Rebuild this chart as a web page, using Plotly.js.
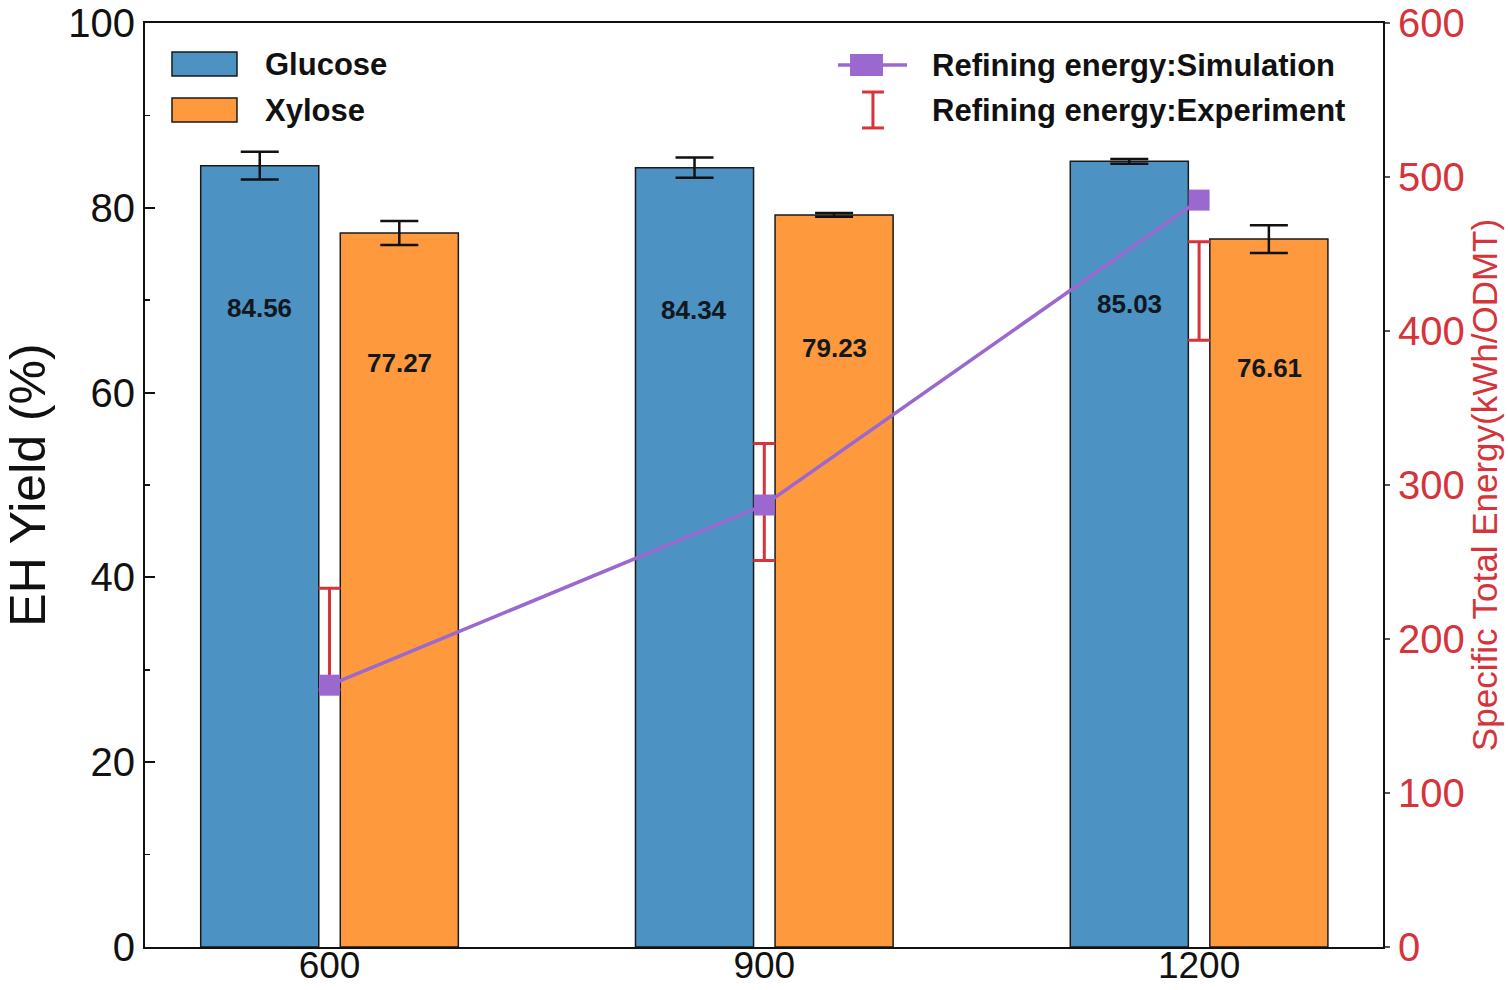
<!DOCTYPE html>
<html>
<head>
<meta charset="utf-8">
<script src="https://cdn.plot.ly/plotly-3.0.1.min.js"></script>
<style>html,body{margin:0;padding:0;background:#fff;}#chart{width:1508px;height:990px;}</style>
</head>
<body>
<div id="chart"></div>
<script>
// ---- data ----
const categories = ['600', '900', '1200'];
const glucose = [84.56, 84.34, 85.03];
const glucoseErr = [1.5, 1.1, 0.25];
const xylose = [77.27, 79.23, 76.61];
const xyloseErr = [1.3, 0.2, 1.5];
const energySimulation = [170, 287, 485];
const energyExperiment = [200, 289, 426];
const energyExperimentErr = [33, 38, 32];
const leftTicks = [0, 20, 40, 60, 80, 100];
const rightTicks = [0, 100, 200, 300, 400, 500, 600];

// ---- style ----
const FONT = 'Liberation Sans, Arial, Helvetica, sans-serif';
const BLUE = '#4c92c3';
const ORANGE = '#ff993e';
const PURPLE = '#9a68cf';
const RED = '#d6333a';
const LABEL_FRAC = 0.818;

const traces = [
  {
    type: 'bar', name: 'Glucose', x: categories, y: glucose,
    marker: {color: BLUE, line: {color: '#1a1a1a', width: 1.5}},
    error_y: {type: 'data', array: glucoseErr, visible: true, color: '#111', thickness: 2.5, width: 19},
    showlegend: false, yaxis: 'y', xaxis: 'x'
  },
  {
    type: 'bar', name: 'Xylose', x: categories, y: xylose,
    marker: {color: ORANGE, line: {color: '#1a1a1a', width: 1.5}},
    error_y: {type: 'data', array: xyloseErr, visible: true, color: '#111', thickness: 2.5, width: 19},
    showlegend: false, yaxis: 'y', xaxis: 'x'
  },
  {
    type: 'scatter', mode: 'markers', name: 'Refining energy:Experiment',
    x: categories, y: energyExperiment, yaxis: 'y2',
    marker: {size: 1, color: 'rgba(0,0,0,0)'},
    error_y: {type: 'data', array: energyExperimentErr, visible: true, color: RED, thickness: 3, width: 11},
    showlegend: false
  },
  {
    type: 'scatter', mode: 'lines+markers', name: 'Refining energy:Simulation',
    x: categories, y: energySimulation, yaxis: 'y2',
    line: {color: PURPLE, width: 3.5},
    marker: {symbol: 'square', size: 21, color: PURPLE},
    showlegend: false
  }
];

const annotations = [];
const barFont = {family: FONT, size: 26, color: '#111820', weight: 'bold'};
categories.forEach((c, i) => {
  annotations.push({x: i, y: glucose[i] * LABEL_FRAC, xref: 'x', yref: 'y', xshift: -70,
    text: glucose[i].toFixed(2), showarrow: false, font: barFont});
  annotations.push({x: i, y: xylose[i] * LABEL_FRAC, xref: 'x', yref: 'y', xshift: 70,
    text: xylose[i].toFixed(2), showarrow: false, font: barFont});
});

// manual legend texts
const legFont = {family: FONT, size: 31, color: '#111', weight: 'bold'};
annotations.push({xref: 'paper', yref: 'paper', x: 0.0953, y: 0.9556, xanchor: 'left', yanchor: 'middle', text: 'Glucose', showarrow: false, font: legFont});
annotations.push({xref: 'paper', yref: 'paper', x: 0.0953, y: 0.9058, xanchor: 'left', yanchor: 'middle', text: 'Xylose', showarrow: false, font: legFont});
annotations.push({xref: 'paper', yref: 'paper', x: 0.6341, y: 0.9545, xanchor: 'left', yanchor: 'middle', text: 'Refining energy:Simulation', showarrow: false, font: legFont});
annotations.push({xref: 'paper', yref: 'paper', x: 0.6341, y: 0.9048, xanchor: 'left', yanchor: 'middle', text: 'Refining energy:Experiment', showarrow: false, font: legFont});

const shapes = [
  {type: 'rect', xref: 'paper', yref: 'paper', x0: 0.0218, x1: 0.0743, y0: 0.9426, y1: 0.9686, fillcolor: BLUE, line: {color: '#1a1a1a', width: 1.5}},
  {type: 'rect', xref: 'paper', yref: 'paper', x0: 0.0218, x1: 0.0743, y0: 0.8929, y1: 0.9188, fillcolor: ORANGE, line: {color: '#1a1a1a', width: 1.5}},
  {type: 'line', xref: 'paper', yref: 'paper', x0: 0.5598, x1: 0.6155, y0: 0.9545, y1: 0.9545, line: {color: PURPLE, width: 3.5}},
  {type: 'rect', xref: 'paper', yref: 'paper', x0: 0.5695, x1: 0.5961, y0: 0.9426, y1: 0.9665, fillcolor: PURPLE, line: {width: 0}},
  {type: 'line', xref: 'paper', yref: 'paper', x0: 0.5880, x1: 0.5880, y0: 0.8864, y1: 0.9253, line: {color: RED, width: 3}},
  {type: 'line', xref: 'paper', yref: 'paper', x0: 0.5792, x1: 0.5969, y0: 0.8864, y1: 0.8864, line: {color: RED, width: 3}},
  {type: 'line', xref: 'paper', yref: 'paper', x0: 0.5792, x1: 0.5969, y0: 0.9253, y1: 0.9253, line: {color: RED, width: 3}}
];

const layout = {
  width: 1508, height: 990,
  margin: {l: 145, r: 125, t: 23, b: 43, pad: 0},
  paper_bgcolor: '#fff', plot_bgcolor: '#fff',
  font: {family: FONT, color: '#111'},
  barmode: 'group', bargap: 0.358, bargroupgap: 0.154,
  showlegend: false,
  xaxis: {
    type: 'category', categoryorder: 'array', categoryarray: categories,
    range: [-0.4244, 2.423],
    showline: true, linecolor: '#111', linewidth: 2, mirror: true,
    ticks: '', showgrid: false, zeroline: false,
    ticklabelstandoff: -15,
    tickfont: {family: FONT, size: 37, color: '#111'}
  },
  yaxis: {
    range: [0, 100], tickvals: leftTicks, ticktext: leftTicks.map(String),
    showline: true, linecolor: '#111', linewidth: 2, mirror: false,
    ticks: 'inside', ticklen: 10, tickwidth: 2, tickcolor: '#111',
    minor: {dtick: 10, ticks: 'inside', ticklen: 5, tickwidth: 1.5, tickcolor: '#111'},
    showgrid: false, zeroline: false,
    tickfont: {family: FONT, size: 40, color: '#111'},
    title: {text: 'EH Yield (%)', font: {family: FONT, size: 50, color: '#111'}, standoff: 12}
  },
  yaxis2: {
    overlaying: 'y', side: 'right', range: [0, 600],
    tickvals: rightTicks, ticktext: rightTicks.map(String),
    showline: true, linecolor: '#111', linewidth: 2,
    ticks: 'outside', ticklen: 5, tickwidth: 1.5, tickcolor: '#555',
    showgrid: false, zeroline: false,
    tickfont: {family: FONT, size: 40, color: RED},
    title: {text: 'Specific Total Energy(kWh/ODMT)', font: {family: FONT, size: 35, color: RED}, standoff: 4}
  },
  annotations: annotations,
  shapes: shapes
};

Plotly.newPlot('chart', traces, layout, {displayModeBar: false, staticPlot: true});
</script>
</body>
</html>
